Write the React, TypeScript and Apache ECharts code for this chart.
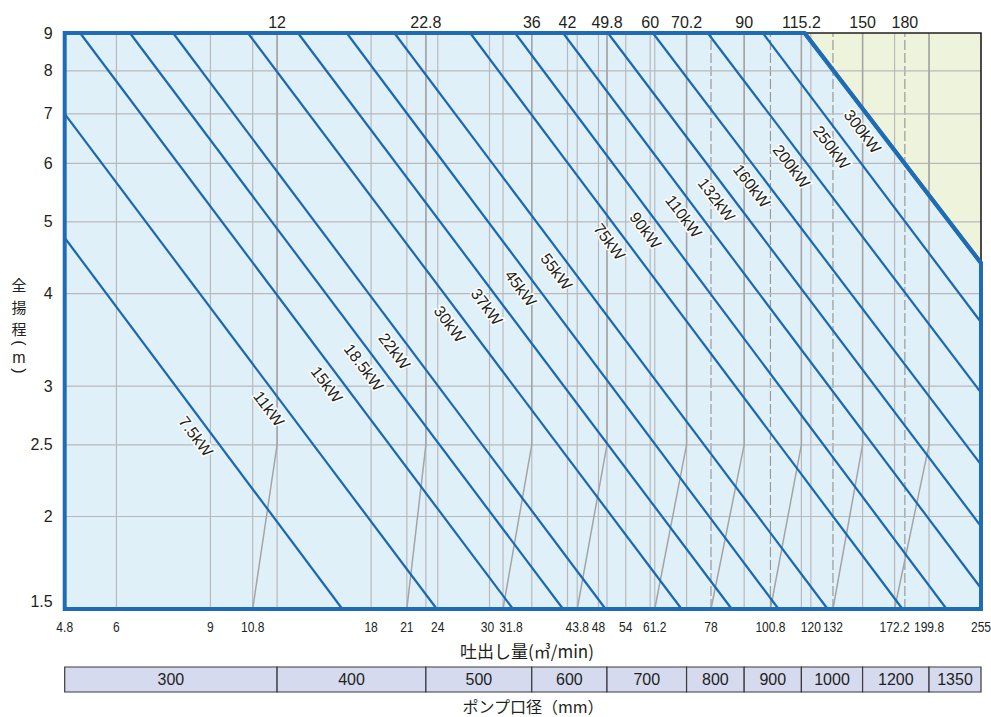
import React, { useEffect, useRef } from "react";
import * as echarts from "echarts";

// ---------- axis ranges ----------
const X_MIN = 4.8;
const X_MAX = 250;
const Y_MIN = 1.5;
const Y_MAX = 9;

// ---------- tick labels ----------
const bottomTicks = [4.8, 6, 9, 10.8, 18, 21, 24, 30, 31.8, 43.8, 48, 54, 61.2, 78, 100.8, 120, 132, 172.2, 199.8, 255];
const topTicks = [12, 22.8, 36, 42, 49.8, 60, 70.2, 90, 115.2, 150, 180];
const dashedTicks = [78, 100.8, 132, 180];
const yTicks = [1.5, 2, 2.5, 3, 4, 5, 6, 7, 8, 9];

// ---------- motor power lines ----------
const powerNames = ["7.5kW", "11kW", "15kW", "18.5kW", "22kW", "30kW", "37kW", "45kW", "55kW", "75kW", "90kW", "110kW", "132kW", "160kW", "200kW", "250kW", "300kW"];
const startQ = [4.8, 4.8, 5.13, 6.36, 7.66, 10.58, 13.13, 16.2, 19.9, 27.6, 33.5, 41.2, 50.0, 60.7, 76.9, 97.5, 116.8];
const startH = [4.76, 7.0, 9, 9, 9, 9, 9, 9, 9, 9, 9, 9, 9, 9, 9, 9, 9];
const endQ = [15.9, 23.9, 33.2, 41.2, 49.5, 68.7, 85.3, 104.4, 129.0, 178.2, 215.5, 250, 250, 250, 250, 250, 250];
const endH = [1.5, 1.5, 1.5, 1.5, 1.5, 1.5, 1.5, 1.5, 1.5, 1.5, 1.5, 1.6, 1.94, 2.35, 2.94, 3.66, 4.4];
const labelQ = [8.87, 12.15, 15.6, 18.3, 20.9, 26.5, 31.1, 36.0, 42.0, 52.8, 61.7, 72.7, 83.8, 97.5, 115.8, 137.7, 157.3];

// ---------- pump range limit lines ----------
const limitLowQ = [10.8, 21, 31.8, 43.8, 61.2, 78, 100.8, 132, 172.2];
const limitHighQ = [12, 22.8, 36, 49.8, 70.2, 90, 115.2, 150, 199.8];
const limitKneeH = 2.5;

// ---------- pump bore table ----------
const boreBounds = [4.8, 12, 22.8, 36, 49.8, 70.2, 90, 115.2, 150, 199.8, 250];
const boreSizes = ["300", "400", "500", "600", "700", "800", "900", "1000", "1200", "1350"];

// ---------- titles ----------
const xTitle = "吐出し量(㎥/min)";
const boreTitle = "ポンプ口径（mm）";
const yTitleChars = ["全", "揚", "程"];
const yTitleUnit = "m";

// ---------- styles ----------
const BLUE = "#1b68b0";
const FRAME = "#1f6cb5";
const FILL = "#e0f0f9";
const BEIGE = "#eef3dc";
const GRID = "#b9b9bd";
const GRID_DARK = "#a4a4a6";
const INK = "#231f20";
const FONT = '"Liberation Sans", Arial, Helvetica, sans-serif';
const JFONT = '"Noto Sans CJK JP", "Noto Sans", sans-serif';
// small horizontal nudges of crowded bottom labels (px)
const bottomLabelNudge: Record<string, number> = { "30": -2, "31.8": 8 };

const last = powerNames.length - 1;

function headOnLine(i: number, q: number) {
  const t = (Math.log(q) - Math.log(startQ[i])) / (Math.log(endQ[i]) - Math.log(startQ[i]));
  return Math.exp(Math.log(startH[i]) + t * (Math.log(endH[i]) - Math.log(startH[i])));
}

function txt(text: string, x: number, y: number, size: number, align: string, extra: any = {}, family: string = FONT) {
  return {
    type: "text",
    x,
    y,
    ...extra,
    style: {
      text,
      fill: INK,
      font: `${size}px ${family}`,
      fontSize: size,
      fontFamily: family,
      align,
      textAlign: align,
      verticalAlign: "middle",
      textVerticalAlign: "middle",
    },
  };
}

function buildOption(): any {
  const gridXs = Array.from(new Set([...bottomTicks, ...topTicks])).filter((v) => v > X_MIN && v < X_MAX);
  const gridYs = yTicks.filter((v) => v > Y_MIN && v < Y_MAX);

  const series: any[] = [];

  // backgrounds
  series.push({
    type: "custom",
    xAxisIndex: 0,
    yAxisIndex: 0,
    z: 1,
    silent: true,
    data: [[X_MIN, Y_MIN]],
    renderItem: (_p: any, api: any) => {
      const c = (q: number, h: number) => api.coord([q, h]);
      return {
        type: "group",
        children: [
          {
            type: "polygon",
            shape: { points: [c(X_MIN, Y_MAX), c(startQ[last], Y_MAX), c(X_MAX, endH[last]), c(X_MAX, Y_MIN), c(X_MIN, Y_MIN)] },
            style: { fill: FILL },
          },
          {
            type: "polygon",
            shape: { points: [c(startQ[last], Y_MAX), c(X_MAX, Y_MAX), c(X_MAX, endH[last])] },
            style: { fill: BEIGE },
          },
        ],
      };
    },
  });

  // vertical grid lines
  series.push({
    type: "custom",
    xAxisIndex: 0,
    yAxisIndex: 0,
    z: 2,
    silent: true,
    data: gridXs.map((v) => [v, Y_MIN]),
    renderItem: (_p: any, api: any) => {
      const v = api.value(0);
      const a = api.coord([v, Y_MIN]);
      const b = api.coord([v, Y_MAX]);
      const dashed = dashedTicks.indexOf(v) >= 0;
      return {
        type: "line",
        shape: { x1: a[0], y1: a[1], x2: b[0], y2: b[1] },
        style: { stroke: dashed ? "#9a9a9c" : GRID, lineWidth: 1.2, lineDash: dashed ? [10, 3] : null },
      };
    },
  });

  // horizontal grid lines
  series.push({
    type: "custom",
    xAxisIndex: 0,
    yAxisIndex: 0,
    z: 2,
    silent: true,
    data: gridYs.map((v) => [X_MIN, v]),
    renderItem: (_p: any, api: any) => {
      const v = api.value(1);
      const a = api.coord([X_MIN, v]);
      const b = api.coord([X_MAX, v]);
      return {
        type: "line",
        shape: { x1: a[0], y1: a[1], x2: b[0], y2: b[1] },
        style: { stroke: GRID, lineWidth: 1.2 },
      };
    },
  });

  // pump range limit lines
  series.push({
    type: "custom",
    xAxisIndex: 0,
    yAxisIndex: 0,
    z: 3,
    silent: true,
    data: limitLowQ.map((q, i) => [q, Y_MIN, limitHighQ[i]]),
    renderItem: (_p: any, api: any) => {
      const lo = api.value(0);
      const hi = api.value(2);
      return {
        type: "polyline",
        shape: { points: [api.coord([lo, Y_MIN]), api.coord([hi, limitKneeH]), api.coord([hi, Y_MAX])] },
        style: { stroke: GRID_DARK, lineWidth: 1.5, fill: null },
      };
    },
  });

  // beige zone outline
  series.push({
    type: "custom",
    xAxisIndex: 0,
    yAxisIndex: 0,
    z: 4,
    silent: true,
    data: [[X_MAX, Y_MAX]],
    renderItem: (_p: any, api: any) => ({
      type: "polyline",
      shape: { points: [api.coord([startQ[last], Y_MAX]), api.coord([X_MAX, Y_MAX]), api.coord([X_MAX, endH[last]])] },
      style: { stroke: INK, lineWidth: 1.6, fill: null },
    }),
  });

  // power lines
  powerNames.forEach((name, i) => {
    series.push({
      type: "line",
      name,
      xAxisIndex: 0,
      yAxisIndex: 0,
      z: 5,
      silent: true,
      clip: false,
      symbol: "none",
      data: [
        [startQ[i], startH[i]],
        [endQ[i], endH[i]],
      ],
      lineStyle: { color: i === last ? FRAME : BLUE, width: i === last ? 4 : 2.2 },
    });
  });

  // frame
  series.push({
    type: "custom",
    xAxisIndex: 0,
    yAxisIndex: 0,
    z: 6,
    silent: true,
    data: [[X_MIN, Y_MIN]],
    renderItem: (_p: any, api: any) => ({
      type: "polygon",
      shape: {
        points: [api.coord([X_MIN, Y_MAX]), api.coord([startQ[last], Y_MAX]), api.coord([X_MAX, endH[last]]), api.coord([X_MAX, Y_MIN]), api.coord([X_MIN, Y_MIN])],
      },
      style: { stroke: FRAME, lineWidth: 4, fill: null, lineJoin: "miter" },
    }),
  });

  // power labels
  series.push({
    type: "custom",
    xAxisIndex: 0,
    yAxisIndex: 0,
    z: 8,
    silent: true,
    data: powerNames.map((_n, i) => [labelQ[i], headOnLine(i, labelQ[i])]),
    renderItem: (p: any, api: any) => {
      const i = p.dataIndex;
      const pt = api.coord([api.value(0), api.value(1)]);
      const a = api.coord([startQ[i], startH[i]]);
      const b = api.coord([endQ[i], endH[i]]);
      const th = Math.atan2(b[1] - a[1], b[0] - a[0]);
      const off = 14;
      return {
        type: "text",
        x: pt[0] - off * Math.sin(th),
        y: pt[1] + off * Math.cos(th),
        rotation: -th,
        style: {
          text: powerNames[i],
          fill: INK,
          stroke: "#ffffff",
          lineWidth: 3,
          font: `16px ${FONT}`,
          fontSize: 16,
          fontFamily: FONT,
          align: "center",
          textAlign: "center",
          verticalAlign: "middle",
          textVerticalAlign: "middle",
        },
      };
    },
  });

  // bottom tick labels
  series.push({
    type: "custom",
    xAxisIndex: 0,
    yAxisIndex: 0,
    z: 8,
    silent: true,
    data: bottomTicks.map((v) => [Math.min(v, X_MAX), Y_MIN]),
    renderItem: (p: any, api: any) => {
      const label = String(bottomTicks[p.dataIndex]);
      const c = api.coord([api.value(0), Y_MIN]);
      const dx = bottomLabelNudge[label] || 0;
      return txt(label, c[0] + dx, c[1] + 18, 14, "center", { scaleX: 0.86 });
    },
  });

  // top tick labels
  series.push({
    type: "custom",
    xAxisIndex: 0,
    yAxisIndex: 0,
    z: 8,
    silent: true,
    data: topTicks.map((v) => [v, Y_MAX]),
    renderItem: (p: any, api: any) => {
      const c = api.coord([api.value(0), Y_MAX]);
      return txt(String(topTicks[p.dataIndex]), c[0], c[1] - 11, 16, "center");
    },
  });

  // y tick labels
  series.push({
    type: "custom",
    xAxisIndex: 0,
    yAxisIndex: 0,
    z: 8,
    silent: true,
    data: yTicks.map((v) => [X_MIN, v]),
    renderItem: (p: any, api: any) => {
      const v = api.value(1);
      const c = api.coord([X_MIN, v]);
      const lift = v === Y_MIN ? -8 : 0;
      return txt(String(yTicks[p.dataIndex]), c[0] - 12, c[1] + lift, 16, "right");
    },
  });

  // bore table
  series.push({
    type: "custom",
    xAxisIndex: 1,
    yAxisIndex: 1,
    z: 5,
    silent: true,
    data: boreSizes.map((_s, i) => [boreBounds[i], 0, boreBounds[i + 1]]),
    renderItem: (p: any, api: any) => {
      const a = api.coord([api.value(0), 1]);
      const b = api.coord([api.value(2), 0]);
      return {
        type: "group",
        children: [
          {
            type: "rect",
            shape: { x: a[0], y: a[1], width: b[0] - a[0], height: b[1] - a[1] },
            style: { fill: "#d5daee", stroke: "#3a3a3c", lineWidth: 1.2 },
          },
          txt(boreSizes[p.dataIndex], (a[0] + b[0]) / 2, (a[1] + b[1]) / 2, 16, "center"),
        ],
      };
    },
  });

  const jText = (text: string, x: number, y: number, size: number) => ({
    type: "text",
    x,
    y,
    style: {
      text,
      fill: INK,
      font: `${size}px ${JFONT}`,
      fontSize: size,
      fontFamily: JFONT,
      lineHeight: size,
      align: "center",
      textAlign: "center",
      verticalAlign: "middle",
      textVerticalAlign: "middle",
    },
  });

  // vertical y-axis title: stacked CJK characters, then the unit in rotated brackets
  const yTitleX = 19;
  const yTitleTop = 284;
  const yTitleStep = 22;
  const unitY = yTitleTop + yTitleStep * (yTitleChars.length - 1) + 29;
  const yTitle: any[] = [
    ...yTitleChars.map((ch, i) => txt(ch, yTitleX, yTitleTop + i * yTitleStep, 15, "center", {}, JFONT)),
    txt("(", yTitleX, unitY - 14, 16, "center", { rotation: -Math.PI / 2 }),
    txt(yTitleUnit, yTitleX, unitY, 16, "center"),
    txt(")", yTitleX, unitY + 14, 16, "center", { rotation: -Math.PI / 2 }),
  ];

  return {
    animation: false,
    backgroundColor: "#ffffff",
    grid: [
      { left: 64.7, top: 33, width: 916.3, height: 576 },
      { left: 64.7, top: 667, width: 916.3, height: 25 },
    ],
    xAxis: [
      { type: "log", gridIndex: 0, min: X_MIN, max: X_MAX, show: false },
      { type: "log", gridIndex: 1, min: X_MIN, max: X_MAX, show: false },
    ],
    yAxis: [
      { type: "log", gridIndex: 0, min: Y_MIN, max: Y_MAX, show: false },
      { type: "value", gridIndex: 1, min: 0, max: 1, show: false },
    ],
    graphic: [jText(xTitle, 527, 650, 17), jText(boreTitle, 533, 706, 16), ...yTitle],
    series,
  };
}

export default function App() {
  const ref = useRef<HTMLDivElement>(null);
  useEffect(() => {
    const chart = echarts.init(ref.current as HTMLDivElement, null, { renderer: "svg" });
    chart.setOption(buildOption());
    return () => chart.dispose();
  }, []);
  return <div ref={ref} style={{ position: "absolute", left: 0, top: 0, width: 991, height: 717 }} />;
}
